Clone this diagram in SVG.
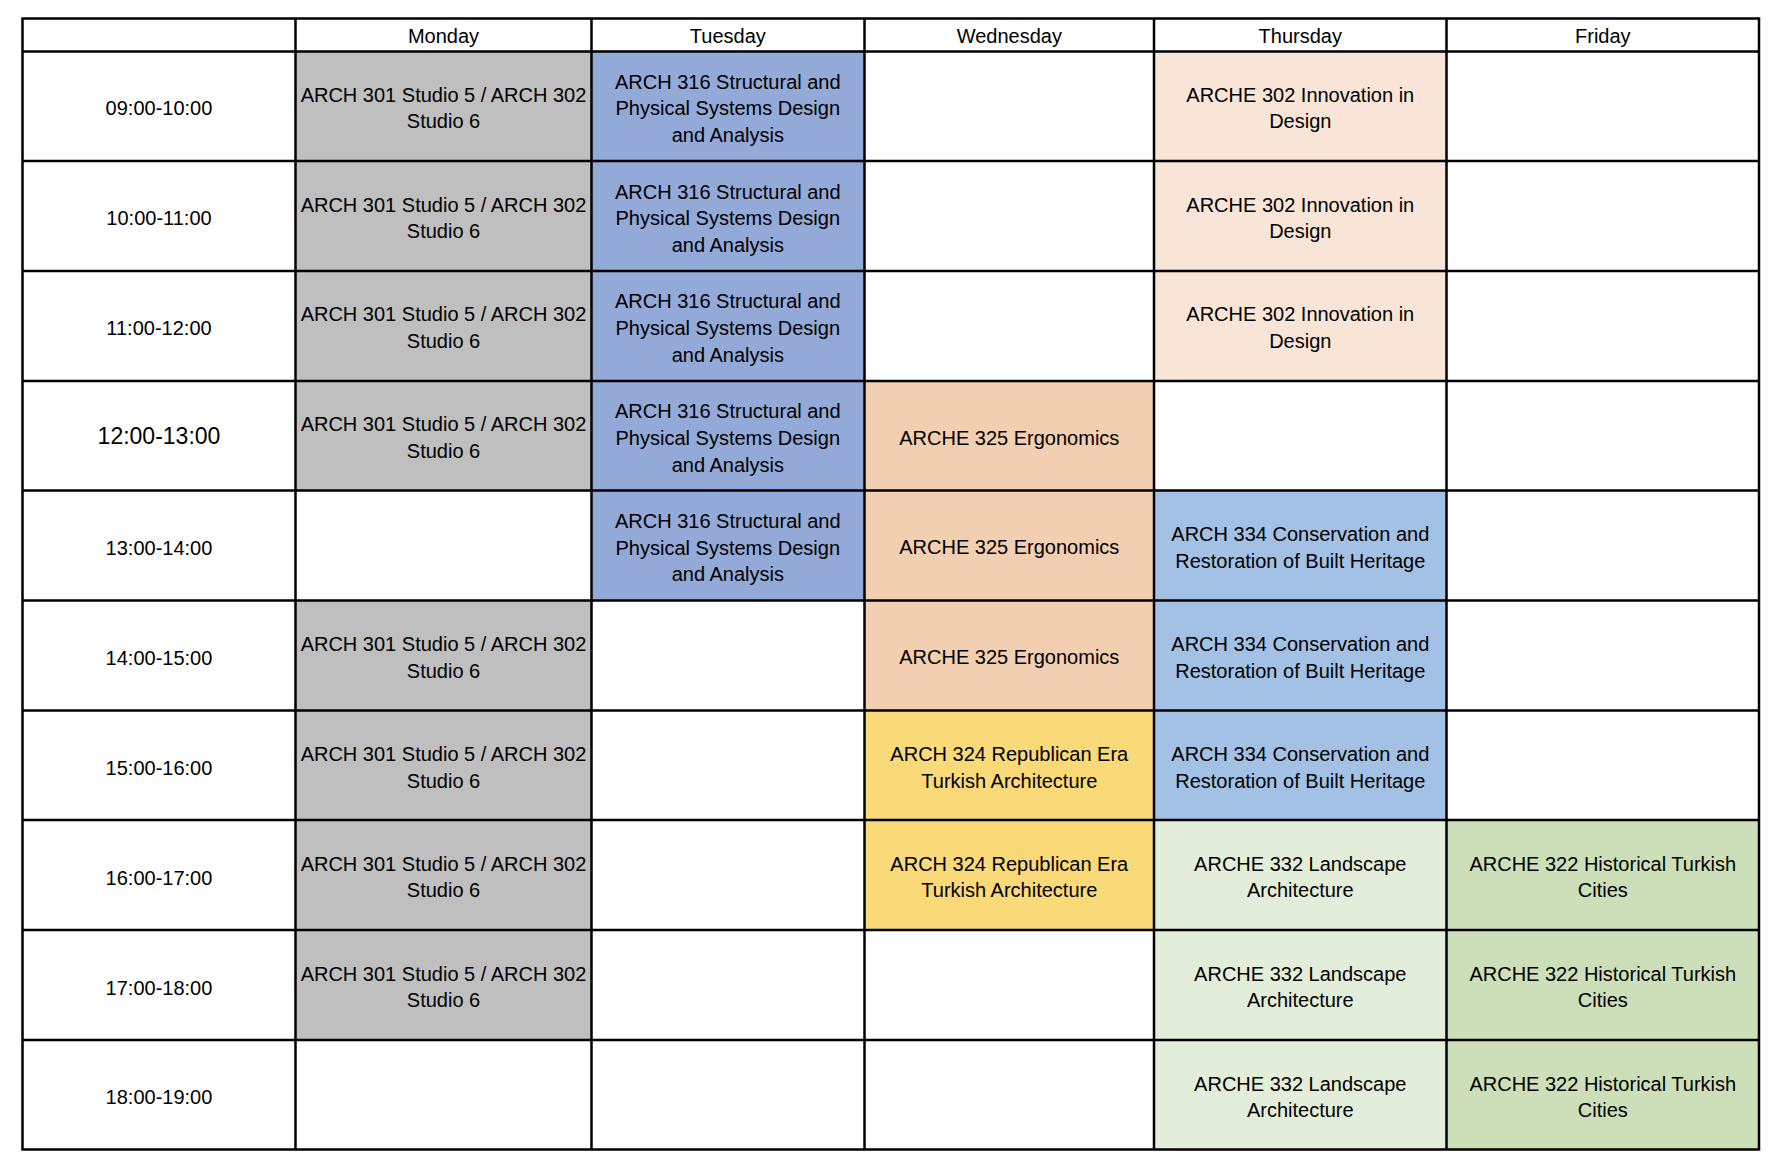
<svg xmlns="http://www.w3.org/2000/svg" width="1776" height="1164" viewBox="0 0 1776 1164">
<style>
text{font-family:"Liberation Sans",Arial,Helvetica,sans-serif;font-size:20px;fill:#000;text-anchor:middle}
.big{font-size:23px}
.gray{fill:#BFBFBF}.blue{fill:#93A9D8}.peach{fill:#F8E5D7}.ergo{fill:#F2CFB1}.yel{fill:#F9D978}.sky{fill:#A2C1E5}.lgreen{fill:#E3EEDA}.green{fill:#CCDFB9}
.grid{fill:none;stroke:#000;stroke-width:2.5}
</style>
<rect x="0" y="0" width="1776" height="1164" fill="#fff"/>
<g id="fills">
<rect class="gray" x="295.5" y="51" width="296" height="439.5"/>
<rect class="gray" x="295.5" y="600.5" width="296" height="439.5"/>
<rect class="blue" x="591.5" y="51" width="273" height="549.5"/>
<rect class="ergo" x="864.5" y="381" width="289.5" height="329"/>
<rect class="yel" x="864.5" y="710" width="289.5" height="220"/>
<rect class="peach" x="1154" y="51" width="292.5" height="330"/>
<rect class="sky" x="1154" y="490.5" width="292.5" height="329.5"/>
<rect class="lgreen" x="1154" y="820" width="292.5" height="329.5"/>
<rect class="green" x="1446.5" y="820" width="312.5" height="329.5"/>
</g>
<g id="header">
<text x="443.5" y="43">Monday</text>
<text x="727.8" y="43">Tuesday</text>
<text x="1009.3" y="43">Wednesday</text>
<text x="1300.3" y="43">Thursday</text>
<text x="1602.8" y="43">Friday</text>
</g>
<g id="times">
<text x="159" y="115.4">09:00-10:00</text>
<text x="159" y="225.3">10:00-11:00</text>
<text x="159" y="335.2">11:00-12:00</text>
<text class="big" x="159" y="444.4">12:00-13:00</text>
<text x="159" y="554.9">13:00-14:00</text>
<text x="159" y="664.8">14:00-15:00</text>
<text x="159" y="774.7">15:00-16:00</text>
<text x="159" y="884.6">16:00-17:00</text>
<text x="159" y="994.5">17:00-18:00</text>
<text x="159" y="1104.3">18:00-19:00</text>
</g>
<g id="monday">
<text x="443.5" y="101.6">ARCH 301 Studio 5 / ARCH 302<tspan x="443.5" y="128.2">Studio 6</tspan></text>
<text x="443.5" y="211.5">ARCH 301 Studio 5 / ARCH 302<tspan x="443.5" y="238.1">Studio 6</tspan></text>
<text x="443.5" y="321.4">ARCH 301 Studio 5 / ARCH 302<tspan x="443.5" y="348.0">Studio 6</tspan></text>
<text x="443.5" y="431.3">ARCH 301 Studio 5 / ARCH 302<tspan x="443.5" y="457.9">Studio 6</tspan></text>
<text x="443.5" y="651.0">ARCH 301 Studio 5 / ARCH 302<tspan x="443.5" y="677.6">Studio 6</tspan></text>
<text x="443.5" y="760.9">ARCH 301 Studio 5 / ARCH 302<tspan x="443.5" y="787.5">Studio 6</tspan></text>
<text x="443.5" y="870.8">ARCH 301 Studio 5 / ARCH 302<tspan x="443.5" y="897.4">Studio 6</tspan></text>
<text x="443.5" y="980.7">ARCH 301 Studio 5 / ARCH 302<tspan x="443.5" y="1007.3">Studio 6</tspan></text>
</g>
<g id="tuesday">
<text x="727.8" y="88.6">ARCH 316 Structural and<tspan x="727.8" y="115.2">Physical Systems Design</tspan><tspan x="727.8" y="141.8">and Analysis</tspan></text>
<text x="727.8" y="198.5">ARCH 316 Structural and<tspan x="727.8" y="225.1">Physical Systems Design</tspan><tspan x="727.8" y="251.7">and Analysis</tspan></text>
<text x="727.8" y="308.4">ARCH 316 Structural and<tspan x="727.8" y="335.0">Physical Systems Design</tspan><tspan x="727.8" y="361.6">and Analysis</tspan></text>
<text x="727.8" y="418.3">ARCH 316 Structural and<tspan x="727.8" y="444.9">Physical Systems Design</tspan><tspan x="727.8" y="471.5">and Analysis</tspan></text>
<text x="727.8" y="528.1">ARCH 316 Structural and<tspan x="727.8" y="554.7">Physical Systems Design</tspan><tspan x="727.8" y="581.3">and Analysis</tspan></text>
</g>
<g id="wednesday">
<text x="1009.3" y="444.6">ARCHE 325 Ergonomics</text>
<text x="1009.3" y="554.4">ARCHE 325 Ergonomics</text>
<text x="1009.3" y="664.3">ARCHE 325 Ergonomics</text>
<text x="1009.3" y="760.9">ARCH 324 Republican Era<tspan x="1009.3" y="787.5">Turkish Architecture</tspan></text>
<text x="1009.3" y="870.8">ARCH 324 Republican Era<tspan x="1009.3" y="897.4">Turkish Architecture</tspan></text>
</g>
<g id="thursday">
<text x="1300.3" y="101.6">ARCHE 302 Innovation in<tspan x="1300.3" y="128.2">Design</tspan></text>
<text x="1300.3" y="211.5">ARCHE 302 Innovation in<tspan x="1300.3" y="238.1">Design</tspan></text>
<text x="1300.3" y="321.4">ARCHE 302 Innovation in<tspan x="1300.3" y="348.0">Design</tspan></text>
<text x="1300.3" y="541.1">ARCH 334 Conservation and<tspan x="1300.3" y="567.7">Restoration of Built Heritage</tspan></text>
<text x="1300.3" y="651.0">ARCH 334 Conservation and<tspan x="1300.3" y="677.6">Restoration of Built Heritage</tspan></text>
<text x="1300.3" y="760.9">ARCH 334 Conservation and<tspan x="1300.3" y="787.5">Restoration of Built Heritage</tspan></text>
<text x="1300.3" y="870.8">ARCHE 332 Landscape<tspan x="1300.3" y="897.4">Architecture</tspan></text>
<text x="1300.3" y="980.7">ARCHE 332 Landscape<tspan x="1300.3" y="1007.3">Architecture</tspan></text>
<text x="1300.3" y="1090.5">ARCHE 332 Landscape<tspan x="1300.3" y="1117.1">Architecture</tspan></text>
</g>
<g id="friday">
<text x="1602.8" y="870.8">ARCHE 322 Historical Turkish<tspan x="1602.8" y="897.4">Cities</tspan></text>
<text x="1602.8" y="980.7">ARCHE 322 Historical Turkish<tspan x="1602.8" y="1007.3">Cities</tspan></text>
<text x="1602.8" y="1090.5">ARCHE 322 Historical Turkish<tspan x="1602.8" y="1117.1">Cities</tspan></text>
</g>
<g id="grid">
<rect class="grid" x="22.5" y="18.5" width="1736.5" height="1131"/>
<path class="grid" d="M295.5 18V1149.5M591.5 18V1149.5M864.5 18V1149.5M1154 18V1149.5M1446.5 18V1149.5M22.5 51.5H1759M22.5 161H1759M22.5 271H1759M22.5 381H1759M22.5 490.5H1759M22.5 600.5H1759M22.5 710.5H1759M22.5 820H1759M22.5 930H1759M22.5 1040H1759"/>
</g>
</svg>
